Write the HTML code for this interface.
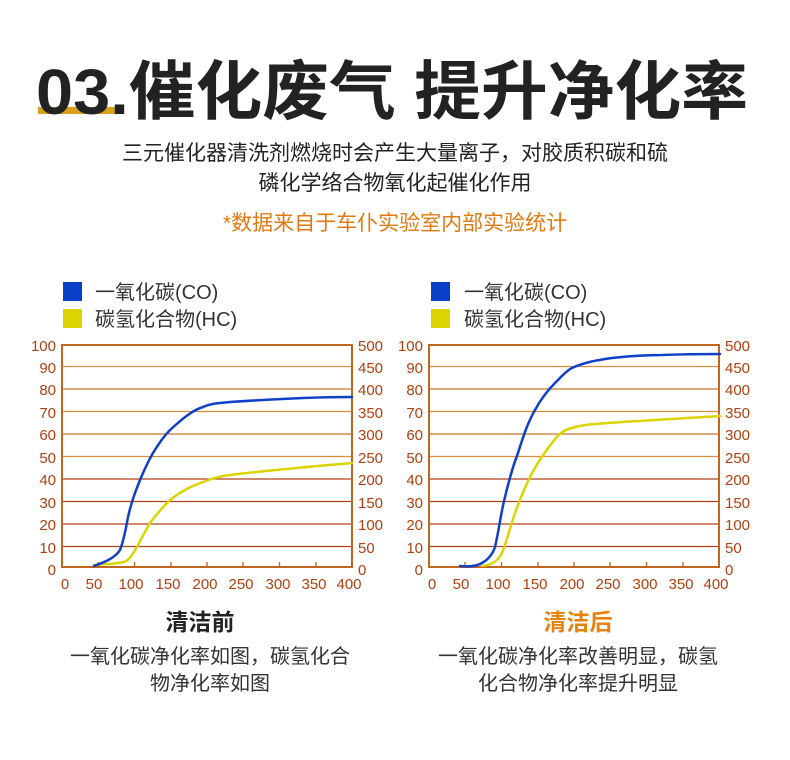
<!DOCTYPE html>
<html><head><meta charset="utf-8"><style>
body{margin:0;width:790px;height:760px;background:#fff;overflow:hidden;font-family:"Liberation Sans","Noto Sans CJK SC",sans-serif;}
</style></head><body>
<svg width="790" height="760" xmlns="http://www.w3.org/2000/svg" style="position:absolute;left:0;top:0">
<rect x="38" y="107" width="78" height="7" fill="#d9a01c"/>
<text x="36" y="114" font-family="Liberation Sans, Noto Sans CJK SC, sans-serif" font-weight="bold" font-size="64" fill="#222" textLength="712" lengthAdjust="spacingAndGlyphs">03.催化废气 提升净化率</text>
<g font-family="Liberation Sans, Noto Sans CJK SC, sans-serif" text-anchor="middle">
<text x="395" y="160" font-size="21" fill="#222">三元催化器清洗剂燃烧时会产生大量离子，对胶质积碳和硫</text>
<text x="395" y="190" font-size="21" fill="#222">磷化学络合物氧化起催化作用</text>
<text x="395" y="230" font-size="21" fill="#e07a10">*数据来自于车仆实验室内部实验统计</text>
<text x="200" y="630" font-size="23" font-weight="bold" fill="#222">清洁前</text>
<text x="210" y="663" font-size="20" fill="#333">一氧化碳净化率如图，碳氢化合</text>
<text x="210" y="690" font-size="20" fill="#333">物净化率如图</text>
<text x="578" y="630" font-size="23" font-weight="bold" fill="#e8820c">清洁后</text>
<text x="578" y="663" font-size="20" fill="#333">一氧化碳净化率改善明显，碳氢</text>
<text x="578" y="690" font-size="20" fill="#333">化合物净化率提升明显</text>
</g>
<defs>
<g id="frame">
<g stroke-width="1.3">
<line x1="0" x2="290" y1="21.5" y2="21.5" stroke="#d98c3a"/>
<line x1="0" x2="290" y1="44" y2="44" stroke="#c8762c"/>
<line x1="0" x2="290" y1="66.5" y2="66.5" stroke="#d98c3a"/>
<line x1="0" x2="290" y1="89" y2="89" stroke="#c8762c"/>
<line x1="0" x2="290" y1="111.5" y2="111.5" stroke="#d98c3a"/>
<line x1="0" x2="290" y1="134" y2="134" stroke="#b0401a"/>
<line x1="0" x2="290" y1="156.5" y2="156.5" stroke="#b0401a"/>
<line x1="0" x2="290" y1="179" y2="179" stroke="#b0401a"/>
<line x1="0" x2="290" y1="201.5" y2="201.5" stroke="#b0401a"/>
</g>
<rect x="0" y="0" width="290" height="222" fill="none" stroke="#c0661e" stroke-width="2"/>
<g stroke="#c0661e" stroke-width="1.3">
<line x1="36" x2="36" y1="222" y2="217"/><line x1="72.5" x2="72.5" y1="222" y2="217"/><line x1="109" x2="109" y1="222" y2="217"/><line x1="145" x2="145" y1="222" y2="217"/><line x1="181" x2="181" y1="222" y2="217"/><line x1="217.5" x2="217.5" y1="222" y2="217"/><line x1="254" x2="254" y1="222" y2="217"/>
</g>
<g font-family="Liberation Sans, sans-serif" font-size="15" fill="#b04010">
<g text-anchor="end">
<text x="-6" y="6">100</text><text x="-6" y="28">90</text><text x="-6" y="50">80</text><text x="-6" y="73">70</text><text x="-6" y="95">60</text><text x="-6" y="118">50</text><text x="-6" y="140">40</text><text x="-6" y="163">30</text><text x="-6" y="185">20</text><text x="-6" y="208">10</text><text x="-6" y="230">0</text>
</g>
<g text-anchor="start" transform="translate(296,0)">
<text x="0" y="6">500</text><text x="0" y="28">450</text><text x="0" y="50">400</text><text x="0" y="73">350</text><text x="0" y="95">300</text><text x="0" y="118">250</text><text x="0" y="140">200</text><text x="0" y="163">150</text><text x="0" y="185">100</text><text x="0" y="208">50</text><text x="0" y="230">0</text>
</g>
<g text-anchor="middle">
<text x="3" y="244">0</text><text x="32" y="244">50</text><text x="69" y="244">100</text><text x="106" y="244">150</text><text x="143" y="244">200</text><text x="179" y="244">250</text><text x="216" y="244">300</text><text x="252" y="244">350</text><text x="287" y="244">400</text>
</g>
</g>
</g>
</defs>
<g transform="translate(62,345)"><use href="#frame"/></g>
<g transform="translate(429,345)"><use href="#frame"/></g>
<g font-family="Liberation Sans, Noto Sans CJK SC, sans-serif" font-size="20" fill="#333">
<rect x="63" y="282" width="19" height="19" fill="#0a3fc8"/>
<rect x="63" y="309" width="19" height="19" fill="#dcd400"/>
<text x="95" y="299">一氧化碳(CO)</text>
<text x="95" y="326">碳氢化合物(HC)</text>
<rect x="431" y="282" width="19" height="19" fill="#0a3fc8"/>
<rect x="431" y="309" width="19" height="19" fill="#dcd400"/>
<text x="464" y="299">一氧化碳(CO)</text>
<text x="464" y="326">碳氢化合物(HC)</text>
</g>
<g fill="none" stroke-width="2.5" stroke-linejoin="round" stroke-linecap="round">
<path stroke="#dcd400" d="M94,565 C105,564 115,564 124,562 C130,560 133,553 137,547 C143,535 146,530 150,523 C158,512 164,506 170,500 C183,490 192,486 203,482 C213,478 220,476 230,475 C280,469 320,466 352,463"/>
<path stroke="#1040c8" d="M94,566 C105,562 115,558 120,550 C124,540 126,528 128,517 C132,500 136,490 140,480 C145,468 149,460 153,453 C159,443 164,436 170,430 C183,418 193,410 203,407 C212,403 220,403 230,402 C260,400 280,399 303,398 C330,397 340,397 352,397"/>
<path stroke="#dcd400" d="M482,566 C492,565 498,561 502,553 C507,541 510,527 515,513 C520,499 526,485 532,473 C538,462 545,452 552,443 C558,435 563,430 572,428 C585,424 595,424 608,423 C650,420 690,418 720,416"/>
<path stroke="#1040c8" d="M460,566 C470,567 477,566 482,563 C489,559 493,553 495,547 C499,530 501,512 505,497 C509,480 513,466 518,453 C523,437 528,422 535,410 C541,399 548,390 555,383 C561,377 566,371 572,368 C585,362 598,360 612,358 C630,356 645,355 662,355 C690,354 705,354 720,354"/>
</g>
</svg>
</body></html>
